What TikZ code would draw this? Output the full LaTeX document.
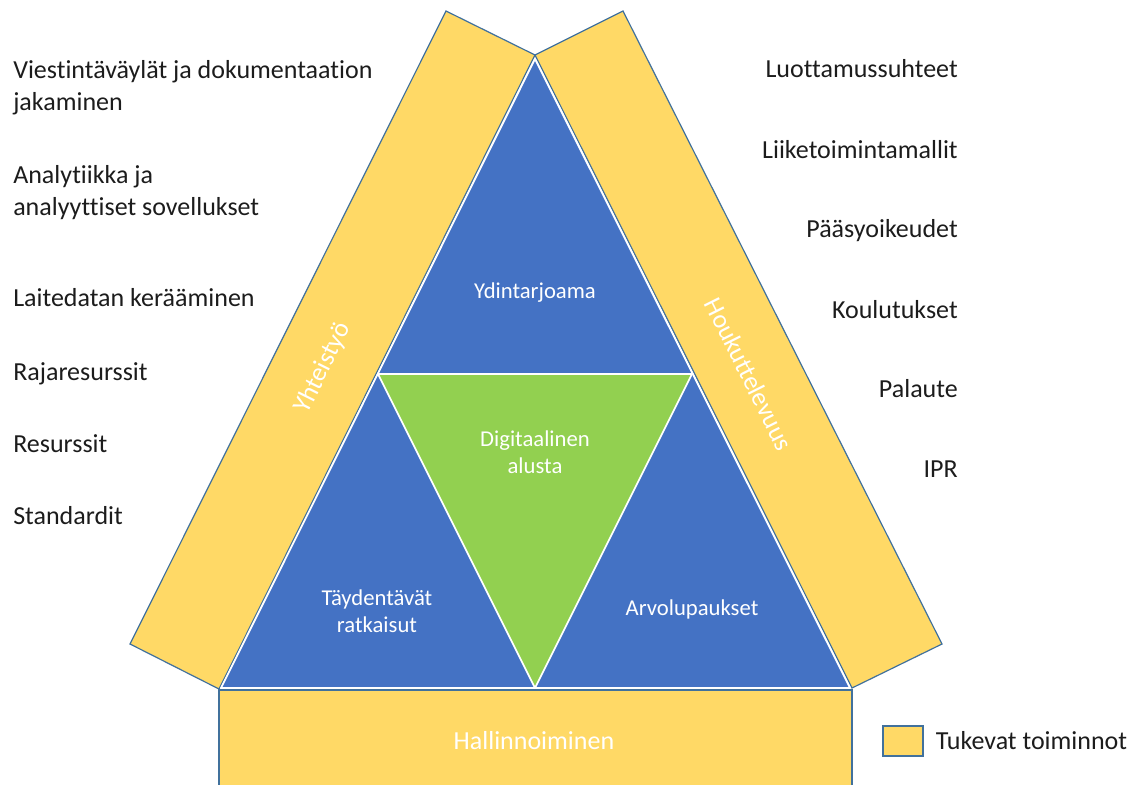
\documentclass[tikz,border=0pt]{standalone}
\usepackage{fontspec}
\setmainfont{Carlito}[Ligatures={NoCommon}]
\usetikzlibrary{positioning}
\definecolor{bandyellow}{HTML}{FFD966}
\definecolor{coreblue}{HTML}{4472C4}
\definecolor{platgreen}{HTML}{92D050}
\definecolor{edgeblue}{HTML}{41719C}
\definecolor{txtgray}{HTML}{1C1C1C}

\begin{document}
\begin{tikzpicture}[
    x=0.75pt, y=-0.75pt,
    band/.style={fill=bandyellow,draw=edgeblue,line width=0.9pt},
    piece/.style={draw=white,line width=1.3pt,line join=round},
    inlabel/.style={text=white,font=\fontsize{17}{20.5}\selectfont,align=center},
    bandlabel/.style={text=white,font=\fontsize{19.5}{23}\selectfont},
    item/.style={text=txtgray,font=\fontsize{19.5}{24}\selectfont,align=left,inner sep=0pt}
    ]
    \useasboundingbox (0,0) rectangle (1142,785);

    % corners of the bands
    \coordinate (ltop) at (446,11);
    \coordinate (notch) at (535,55);
    \coordinate (rtop) at (623,11);
    \coordinate (lout) at (130,644);
    \coordinate (lin) at (219,689);
    \coordinate (rin) at (852,688);
    \coordinate (rout) at (942,644);

    \draw[band] (ltop) -- (notch) -- (lin) -- (lout) -- cycle;
    \draw[band] (notch) -- (rtop) -- (rout) -- (rin) -- cycle;
    \draw[band] (219,690) rectangle (852,788);

    % triangles
    \coordinate (apex) at (535,59);
    \coordinate (bl) at (221,688);
    \coordinate (br) at (850,688);
    \coordinate (ml) at (378,374);
    \coordinate (mr) at (692,374);
    \coordinate (mb) at (535,688);

    \filldraw[piece,fill=coreblue] (apex) -- (br) -- (bl) -- cycle;
    \filldraw[piece,fill=platgreen] (ml) -- (mr) -- (mb) -- cycle;

    \node[inlabel] (core) at (535,293) {Ydintarjoama};
    \node[inlabel] (platform) at (535,452) {Digitaalinen\\alusta};
    \node[inlabel] (compl) at (377,611) {Täydentävät\\ratkaisut};
    \node[inlabel] (value) at (692,609) {Arvolupaukset};

    \node[bandlabel,rotate=63.5] (coop) at (323,368) {Yhteistyö};
    \node[bandlabel,rotate=-63.4] (attr) at (749,374) {Houkuttelevuus};
    \node[bandlabel] (gov) at (534,741) {Hallinnoiminen};

    % left list (base = last line)
    \node[item,anchor=base west] (l1) at (13,110) {Viestintäväylät ja dokumentaation\\jakaminen};
    \node[item,anchor=base west] (l2) at (13,215) {Analytiikka ja\\analyyttiset sovellukset};
    \node[item,anchor=base west] (l3) at (13,306) {Laitedatan kerääminen};
    \node[item,anchor=base west] (l4) at (13,380) {Rajaresurssit};
    \node[item,anchor=base west] (l5) at (13,452) {Resurssit};
    \node[item,anchor=base west] (l6) at (13,524) {Standardit};

    % right list
    \node[item,anchor=base east] (r1) at (958,77) {Luottamussuhteet};
    \node[item,anchor=base east] (r2) at (958,158) {Liiketoimintamallit};
    \node[item,anchor=base east] (r3) at (958,237) {Pääsyoikeudet};
    \node[item,anchor=base east] (r4) at (958,318) {Koulutukset};
    \node[item,anchor=base east] (r5) at (958,397) {Palaute};
    \node[item,anchor=base east] (r6) at (958,477) {IPR};

    % legend
    \node[band,minimum width=30pt,minimum height=22.5pt,inner sep=0pt] (legbox) at (903,741) {};
    \node[item,right=9pt of legbox] (legtext) {Tukevat toiminnot};
\end{tikzpicture}
\end{document}
